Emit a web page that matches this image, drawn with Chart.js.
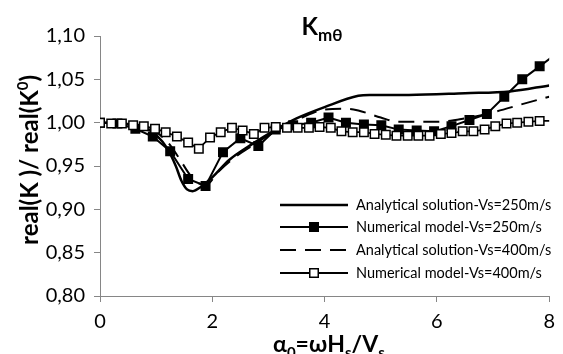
<!DOCTYPE html>
<html>
<head>
<meta charset="utf-8">
<script src="https://cdn.jsdelivr.net/npm/chart.js@4/dist/chart.umd.min.js"></script>
<style>
  body { margin: 0; background: #fff; }
  #wrap { width: 563px; height: 354px; position: relative; }
</style>
</head>
<body>
<div id="wrap"><canvas id="chart"></canvas></div>
<script>
// x tick labels / y range
const xTicks = [0, 2, 4, 6, 8];
const yMin = 0.8;
const yMax = 1.1;

const seriesNames = [
  "Analytical solution-Vs=250m/s",
  "Numerical model-Vs=250m/s",
  "Analytical solution-Vs=400m/s",
  "Numerical model-Vs=400m/s",
];

// analytical, Vs=250
const xAna250 = [0, 0.4, 0.8, 1.0, 1.2, 1.35, 1.45, 1.55, 1.65, 1.8, 2.0, 2.3, 2.7, 3.1, 3.5, 4.0, 4.6, 4.8, 5.5, 6.5, 7.3, 8.0];
const yAna250 = [1.000, 0.999, 0.994, 0.986, 0.970, 0.950, 0.933, 0.923, 0.921, 0.926, 0.937, 0.957, 0.975, 0.991, 1.005, 1.018, 1.031, 1.032, 1.032, 1.034, 1.036, 1.043];

// numerical, Vs=250
const xNum250 = [0, 0.31, 0.63, 0.94, 1.25, 1.57, 1.88, 2.19, 2.50, 2.82, 3.13, 3.44, 3.76, 4.07, 4.38, 4.70, 5.01, 5.32, 5.64, 5.95, 6.26, 6.58, 6.89, 7.20, 7.52, 7.83, 8.14];
const yNum250 = [1.000, 0.999, 0.993, 0.984, 0.967, 0.935, 0.927, 0.966, 0.982, 0.973, 0.992, 0.997, 1.000, 1.006, 1.000, 0.998, 0.997, 0.992, 0.991, 0.990, 0.996, 1.003, 1.010, 1.030, 1.050, 1.065, 1.080];

// analytical, Vs=400
const xAna400 = [0, 0.4, 0.8, 1.0, 1.2, 1.4, 1.6, 1.75, 1.9, 2.1, 2.4, 2.8, 3.2, 3.6, 4.0, 4.4, 4.6, 5.0, 5.3, 6.0, 6.5, 7.0, 7.5, 8.0];
const yAna400 = [1.000, 0.999, 0.995, 0.989, 0.978, 0.960, 0.940, 0.930, 0.929, 0.943, 0.960, 0.977, 0.993, 1.006, 1.015, 1.016, 1.014, 1.006, 1.001, 1.001, 1.005, 1.012, 1.021, 1.030];

// numerical, Vs=400
const xNum400 = [0, 0.20, 0.39, 0.59, 0.78, 0.98, 1.17, 1.37, 1.57, 1.76, 1.96, 2.15, 2.35, 2.54, 2.74, 2.93, 3.13, 3.33, 3.52, 3.72, 3.91, 4.11, 4.30, 4.50, 4.70, 4.89, 5.09, 5.28, 5.48, 5.67, 5.87, 6.07, 6.26, 6.46, 6.65, 6.85, 7.04, 7.24, 7.43, 7.63, 7.83, 8.02];
const yNum400 = [1.000, 0.999, 0.999, 0.997, 0.996, 0.993, 0.989, 0.984, 0.977, 0.970, 0.983, 0.989, 0.994, 0.991, 0.987, 0.994, 0.995, 0.994, 0.994, 0.994, 0.995, 0.994, 0.990, 0.989, 0.989, 0.987, 0.986, 0.985, 0.985, 0.985, 0.985, 0.987, 0.988, 0.990, 0.990, 0.992, 0.996, 0.999, 1.000, 1.001, 1.002, 1.002];

const toPoints = (xs, ys) => xs.map((x, i) => ({ x: x, y: ys[i] }));

const axisGrey = "#868686";
const FONT = "Lato, 'Open Sans', sans-serif";

// styles for the legend, same order as seriesNames
const legendStyles = [
  { width: 2.5, dash: [], marker: null },
  { width: 2, dash: [], marker: "filled" },
  { width: 2, dash: [16, 9], marker: null },
  { width: 2, dash: [], marker: "open" },
];

function drawSquare(ctx, x, y, kind) {
  const s = 8.5;
  ctx.save();
  ctx.setLineDash([]);
  ctx.lineWidth = 1.5;
  ctx.strokeStyle = "#000";
  ctx.fillStyle = kind === "filled" ? "#000" : "#fff";
  ctx.fillRect(x - s / 2, y - s / 2, s, s);
  ctx.strokeRect(x - s / 2, y - s / 2, s, s);
  ctx.restore();
}

// draws text pieces: [text, sizePx, yOffset]
function drawRich(ctx, parts, x, y, align) {
  let total = 0;
  parts.forEach((p) => {
    ctx.font = "bold " + p[1] + "px " + FONT;
    total += ctx.measureText(p[0]).width;
  });
  let cx = align === "center" ? x - total / 2 : x;
  parts.forEach((p) => {
    ctx.font = "bold " + p[1] + "px " + FONT;
    ctx.fillText(p[0], cx, y + p[2]);
    cx += ctx.measureText(p[0]).width;
  });
}

const textPlugin = {
  id: "textPlugin",
  afterDraw: (chart) => {
    const { ctx } = chart;
    ctx.save();
    ctx.fillStyle = "#000";
    ctx.textBaseline = "alphabetic";
    ctx.textAlign = "left";

    // title
    drawRich(ctx, [["K", 24, 0], ["m\u03b8", 17, 6]], 322, 35, "center");

    // x title
    drawRich(ctx, [["\u03b1", 23, 0], ["0", 15, 6], ["=\u03c9H", 23, 0], ["s", 15, 6], ["/V", 23, 0], ["s", 15, 6]], 329, 352, "center");

    // y title (rotated)
    ctx.save();
    ctx.translate(38, 160);
    ctx.rotate(-Math.PI / 2);
    drawRich(ctx, [["real(K )/ real(K", 24, 0], ["0", 15, -10], [")", 24, 0]], 0, 0, "center");
    ctx.restore();

    // legend
    const rowsY = [205, 227, 250, 273];
    ctx.font = "14.5px " + FONT;
    ctx.textBaseline = "middle";
    seriesNames.forEach((name, i) => {
      const st = legendStyles[i];
      const y = rowsY[i];
      ctx.save();
      ctx.strokeStyle = "#000";
      ctx.lineWidth = st.width;
      ctx.setLineDash(st.dash);
      ctx.beginPath();
      ctx.moveTo(280, y);
      ctx.lineTo(348, y);
      ctx.stroke();
      ctx.restore();
      if (st.marker) drawSquare(ctx, 314, y, st.marker);
      ctx.fillStyle = "#000";
      ctx.fillText(name, 356, y);
    });
    ctx.restore();
  },
};

const hideBeyond = (c) => (c.raw && c.raw.x > 8 ? 0 : 6);

const chart = new Chart(document.getElementById("chart").getContext("2d"), {
  type: "line",
  data: {
    datasets: [
      {
        label: seriesNames[3],
        data: toPoints(xNum400, yNum400),
        borderColor: "#000",
        borderWidth: 1.8,
        pointStyle: "rect",
        pointRadius: hideBeyond,
        pointBackgroundColor: "#fff",
        pointBorderColor: "#000",
        pointBorderWidth: 1.5,
        order: 0,
      },
      {
        label: seriesNames[1],
        data: toPoints(xNum250, yNum250),
        borderColor: "#000",
        borderWidth: 2,
        pointStyle: "rect",
        pointRadius: hideBeyond,
        pointBackgroundColor: "#000",
        pointBorderColor: "#000",
        pointBorderWidth: 1.5,
        order: 1,
      },
      {
        label: seriesNames[0],
        data: toPoints(xAna250, yAna250),
        borderColor: "#000",
        borderWidth: 2.5,
        pointRadius: 0,
        cubicInterpolationMode: "monotone",
        order: 2,
      },
      {
        label: seriesNames[2],
        data: toPoints(xAna400, yAna400),
        borderColor: "#000",
        borderWidth: 2,
        borderDash: [16, 9],
        pointRadius: 0,
        cubicInterpolationMode: "monotone",
        order: 3,
      },
    ],
  },
  options: {
    responsive: true,
    maintainAspectRatio: false,
    animation: false,
    layout: { padding: { top: 36, right: 6, left: 0, bottom: 0 } },
    plugins: {
      legend: { display: false },
      tooltip: { enabled: false },
    },
    scales: {
      x: {
        type: "linear",
        min: 0,
        max: 8,
        afterFit: (scale) => { scale.height = 58; },
        afterBuildTicks: (scale) => { scale.ticks = xTicks.map((v) => ({ value: v })); },
        ticks: {
          color: "#000",
          font: { family: FONT, size: 20 },
          padding: 8,
          maxRotation: 0,
        },
        grid: { display: true, drawOnChartArea: false, drawTicks: true, tickLength: 6, color: axisGrey },
        border: { display: true, color: axisGrey, width: 1 },
      },
      y: {
        min: yMin,
        max: yMax,
        afterFit: (scale) => { scale.width = 100; },
        ticks: {
          stepSize: 0.05,
          color: "#000",
          font: { family: FONT, size: 20 },
          padding: 9,
          callback: (v) => v.toFixed(2).replace(".", ","),
        },
        grid: { display: true, drawOnChartArea: false, drawTicks: true, tickLength: 6, color: axisGrey },
        border: { display: true, color: axisGrey, width: 1 },
      },
    },
  },
  plugins: [textPlugin],
});
</script>
</body>
</html>
